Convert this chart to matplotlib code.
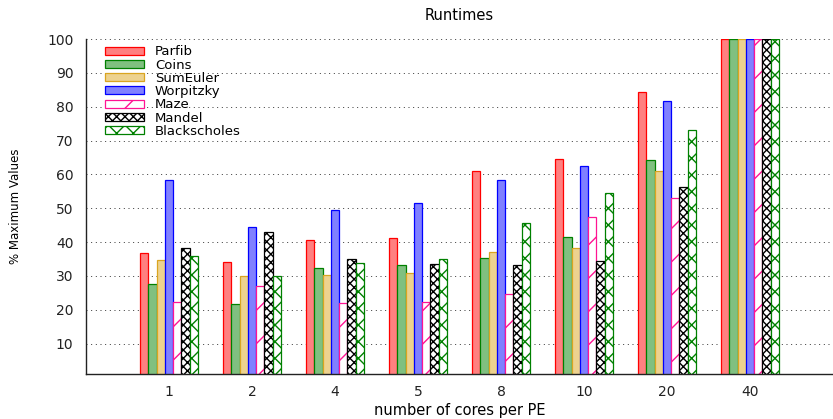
import numpy as np
import matplotlib.pyplot as plt

# cores per PE (x categories)
cores = ["1", "2", "4", "5", "8", "10", "20", "40"]

# runtimes as % of the maximum value, one list per program
parfib = [36.7, 34.2, 40.6, 41.1, 61.0, 64.5, 84.4, 100]
coins = [27.7, 21.8, 32.3, 33.1, 35.3, 41.4, 64.1, 100]
sumeuler = [34.8, 29.9, 30.3, 30.8, 37.1, 38.2, 61.1, 100]
worpitzky = [58.3, 44.4, 49.5, 51.4, 58.3, 62.4, 81.6, 100]
maze = [22.2, 27.0, 21.9, 22.2, 24.6, 47.5, 53.0, 100]
mandel = [38.3, 43.1, 35.0, 33.4, 33.2, 34.5, 56.3, 100]
blackscholes = [35.9, 29.9, 33.9, 35.0, 45.6, 54.5, 73.0, 100]

series = [
    ("Parfib", parfib, "#ff8080", "#ff0000", None),
    ("Coins", coins, "#80c080", "#008000", None),
    ("SumEuler", sumeuler, "#edd28f", "#daa520", None),
    ("Worpitzky", worpitzky, "#8080ff", "#0000ff", None),
    ("Maze", maze, "white", "#ff1493", "/"),
    ("Mandel", mandel, "white", "black", "xxxx"),
    ("Blackscholes", blackscholes, "white", "#008000", "xx"),
]

plt.rcParams['font.family'] = 'DejaVu Sans'
plt.rcParams['hatch.linewidth'] = 1.0

fig = plt.figure(figsize=(8.33, 4.19), dpi=100)
ax = fig.add_axes([0.1032, 0.1074, 0.8968, 0.7995])

x = np.arange(1, len(cores) + 1)
width = 0.1
for i, (name, vals, fill, edge, hatch) in enumerate(series):
    ax.bar(x + (i - 3) * width, vals, width, color=fill, edgecolor=edge,
           hatch=hatch, linewidth=0.9, label=name, zorder=2)

ax.set_xlim(0, 9)
ax.set_ylim(1, 100)
ax.set_xticks(x)
ax.set_xticklabels(cores)
ax.set_yticks(np.arange(10, 101, 10))
ax.tick_params(axis='both', length=0, labelsize=10, colors='#222222')
ax.tick_params(axis='x', pad=8)
ax.tick_params(axis='y', pad=9)

ax.yaxis.grid(True, color='#333333', linestyle=(0, (1, 3.8)), linewidth=0.7)
ax.set_axisbelow(True)

for side in ['top', 'right']:
    ax.spines[side].set_visible(False)
for side in ['left', 'bottom']:
    ax.spines[side].set_color('#222222')
    ax.spines[side].set_linewidth(1.0)

ax.set_title("Runtimes", fontsize=10.5, pad=14)
ax.set_xlabel("number of cores per PE", fontsize=10.5, labelpad=3)
ax.set_ylabel("% Maximum Values", fontsize=8.5, labelpad=18)

ax.legend(loc='upper left', bbox_to_anchor=(0.019, 0.997), borderaxespad=0,
          frameon=False, fontsize=9.5, labelspacing=0.02, handlelength=2.9,
          handleheight=0.55, handletextpad=0.85)

fig.savefig("out.png", dpi=100)
